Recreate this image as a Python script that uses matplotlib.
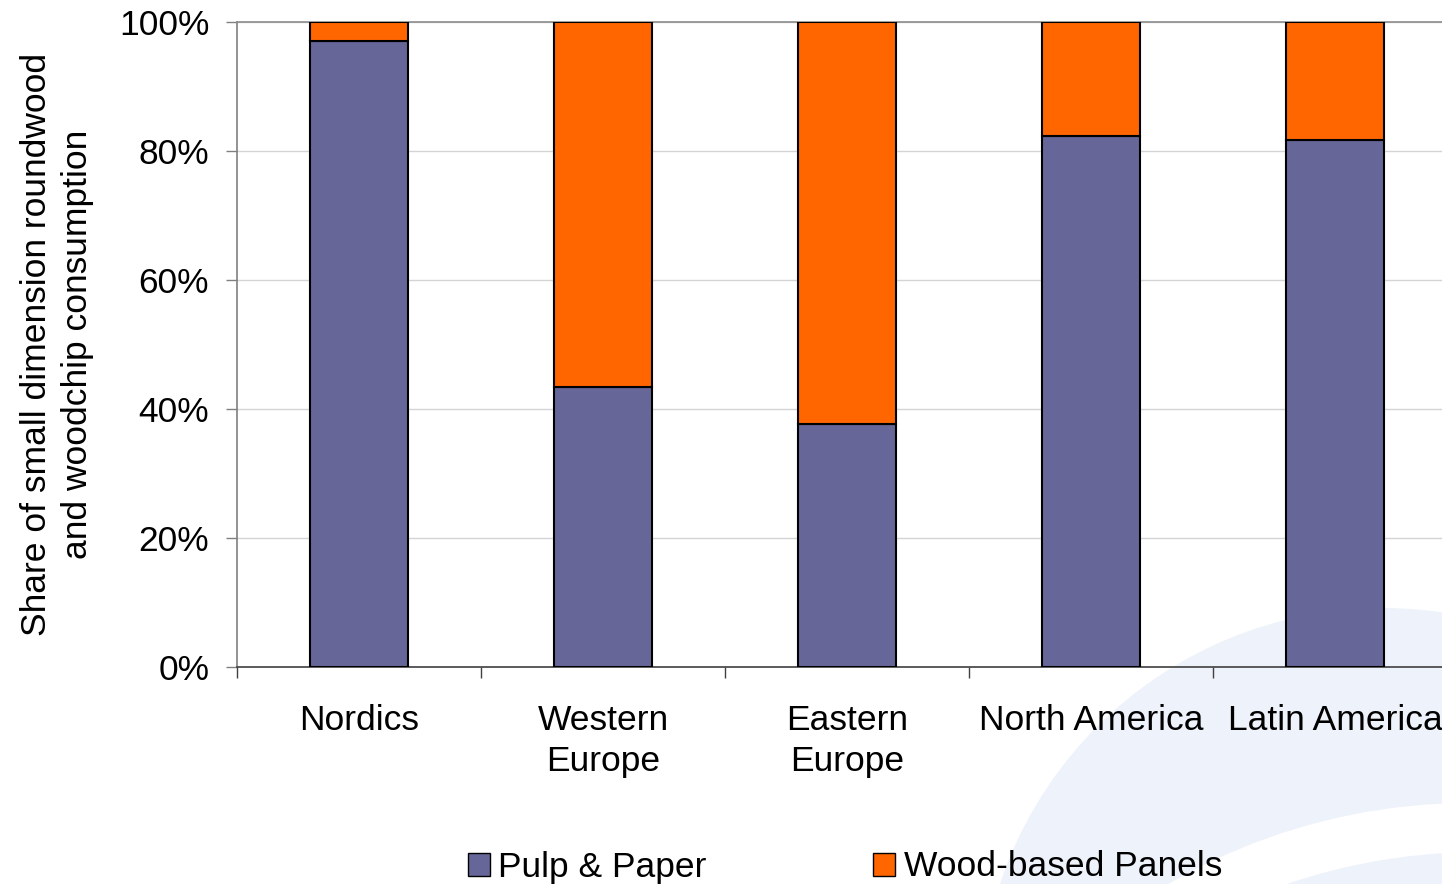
import numpy as np
import matplotlib
matplotlib.use("Agg")
import matplotlib.pyplot as plt
from matplotlib.patches import Ellipse, Patch

plt.rcParams['font.family'] = ['Liberation Sans', 'DejaVu Sans']

# data (shares of consumption, %)
regions = ["Nordics", "Western\nEurope", "Eastern\nEurope", "North America", "Latin America"]
pulp_paper = [97.1, 43.4, 37.7, 82.3, 81.7]
wood_panels = [100 - v for v in pulp_paper]
series_names = ["Pulp & Paper", "Wood-based Panels"]
colors = ["#666699", "#FF6600"]

W, H = 1442, 884
FS = 25.5
fig = plt.figure(figsize=(W / 100, H / 100), dpi=100)
fig.patch.set_facecolor("white")

# faint logo swoosh in the background (lower right)
def add_circle(cx, cy, r, color):
    e = Ellipse((cx / W, 1 - cy / H), 2 * r / W, 2 * r / H,
                transform=fig.transFigure, facecolor=color, edgecolor="none", zorder=0)
    fig.add_artist(e)

add_circle(1383, 1012, 404, "#EEF2FA")
add_circle(1470, 1405, 602, "white")
add_circle(1480, 1452, 600, "#EEF2FA")

ax = fig.add_axes([237 / W, 1 - 667 / H, 1220 / W, 645 / H])
ax.set_facecolor("none")
ax.set_zorder(2)

x = np.arange(len(regions))
ax.bar(x, pulp_paper, width=0.4, color=colors[0], edgecolor="black", linewidth=1.5, zorder=3)
ax.bar(x, wood_panels, width=0.4, bottom=pulp_paper, color=colors[1],
       edgecolor="black", linewidth=1.5, zorder=3)

ax.set_xlim(-0.5, len(regions) - 0.5)
ax.set_ylim(0, 100)
ax.set_yticks(np.arange(0, 101, 20))
ax.set_yticklabels([f"{v}%" for v in range(0, 101, 20)], fontsize=FS)
ax.tick_params(axis="y", length=8, width=1, color="#808080", pad=12)
ax.yaxis.grid(True, color="#D4D4D4", linewidth=1, zorder=0)
ax.set_axisbelow(True)

ax.set_xticks(x)
ax.set_xticklabels(regions, fontsize=FS, linespacing=1.3)
ax.tick_params(axis="x", which="major", length=0, pad=27)
ax.set_xticks(np.arange(-0.5, len(regions), 1), minor=True)
ax.tick_params(axis="x", which="minor", length=8, width=1, color="#404040")

ax.spines["right"].set_visible(False)
ax.spines["top"].set_color("#8C8C8C")
ax.spines["left"].set_color("#808080")
ax.spines["bottom"].set_color("#404040")
for s in ax.spines.values():
    s.set_linewidth(1.2)

ax.set_ylabel("Share of small dimension roundwood\nand woodchip consumption",
              fontsize=FS, linespacing=1.3)
ax.yaxis.set_label_coords(-0.117, 0.5)

handles = [Patch(facecolor=c, edgecolor="black", linewidth=1) for c in colors]
fig.legend(handles, series_names, loc="center", bbox_to_anchor=(845 / W, 1 - 867 / H),
           ncol=2, frameon=False, fontsize=FS, handlelength=0.62, handleheight=0.62,
           handletextpad=0.25, columnspacing=4.7, borderpad=0)

fig.savefig("out.png", dpi=100, facecolor="white")
